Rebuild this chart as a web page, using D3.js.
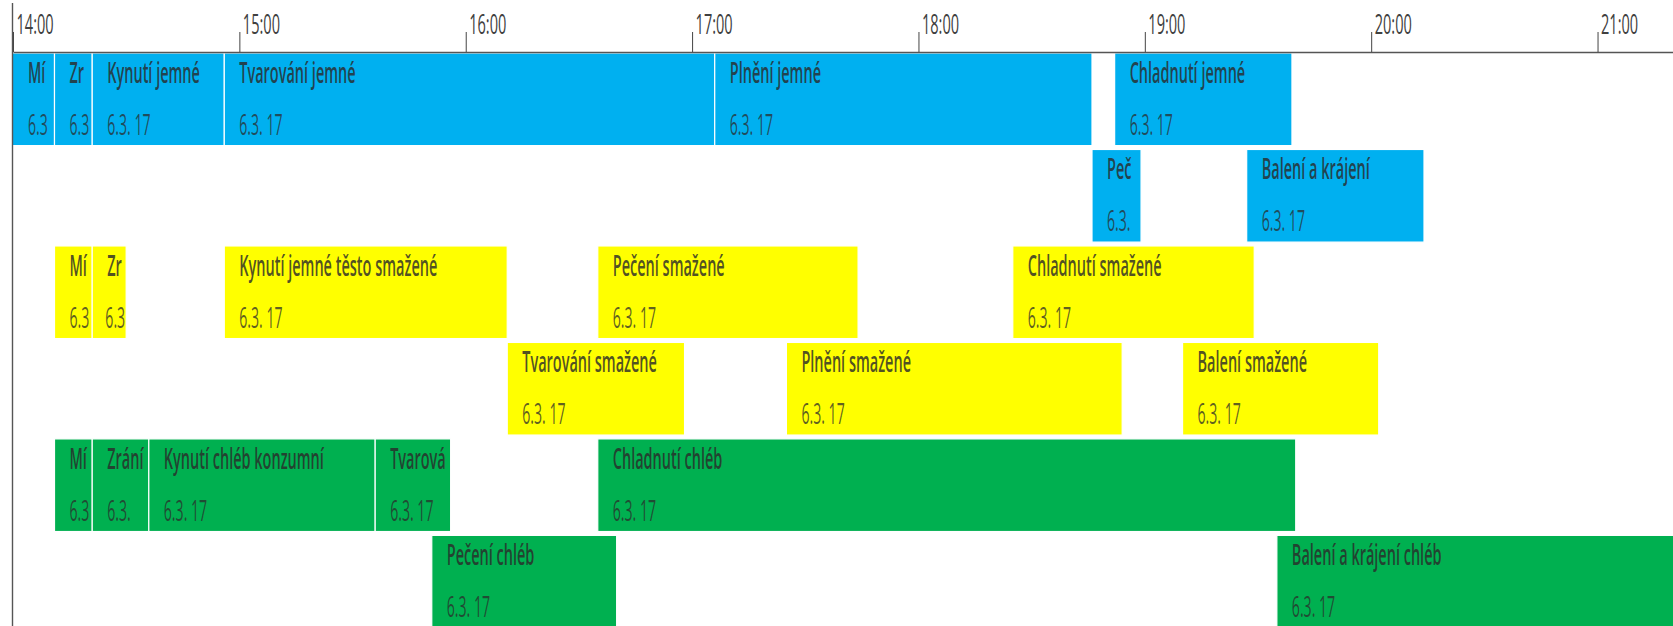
<!DOCTYPE html>
<html>
<head>
<meta charset="utf-8">
<script src="https://cdn.jsdelivr.net/npm/d3@7"></script>
<style>
  body { margin: 0; background: #fff; }
  svg { display: block; }
</style>
</head>
<body>
<div class="chart"></div>
<script>
const width = 1673
const height = 626

// task labels as they show in their bars (short bars cut the text)
const taskNames = [
  "Mí", "Zr", "Kynutí jemné", "Tvarování jemné", "Plnění jemné", "Chladnutí jemné",
  "Peč", "Balení a krájení",
  "Mí", "Zr", "Kynutí jemné těsto smažené", "Pečení smažené", "Chladnutí smažené",
  "Tvarování smažené", "Plnění smažené", "Balení smažené",
  "Mí", "Zrání", "Kynutí chléb konzumní", "Tvarová", "Chladnutí chléb",
  "Pečení chléb", "Balení a krájení chléb"
]
const taskDates = [
  "6.3", "6.3", "6.3. 17", "6.3. 17", "6.3. 17", "6.3. 17",
  "6.3.", "6.3. 17",
  "6.3", "6.3", "6.3. 17", "6.3. 17", "6.3. 17",
  "6.3. 17", "6.3. 17", "6.3. 17",
  "6.3", "6.3.", "6.3. 17", "6.3. 17", "6.3. 17",
  "6.3. 17", "6.3. 17"
]
const taskRow = [
  0, 0, 0, 0, 0, 0,
  1, 1,
  2, 2, 2, 2, 2,
  3, 3, 3,
  4, 4, 4, 4, 4,
  5, 5
]
const taskStart = [
  "13:55", "14:11", "14:21", "14:56", "17:06", "18:52",
  "18:46", "19:27",
  "14:11", "14:21", "14:56", "16:35", "18:25",
  "16:11", "17:25", "19:10",
  "14:11", "14:21", "14:36", "15:36", "16:35",
  "15:51", "19:35"
]
const taskEnd = [
  "14:11", "14:21", "14:56", "17:06", "18:46", "19:39",
  "18:59", "20:14",
  "14:21", "14:30", "16:11", "17:44", "19:29",
  "16:58", "18:54", "20:02",
  "14:21", "14:36", "15:36", "15:56", "19:40",
  "16:40", "21:40"
]
const taskGroup = [
  "jemné", "jemné", "jemné", "jemné", "jemné", "jemné",
  "jemné", "jemné",
  "smažené", "smažené", "smažené", "smažené", "smažené",
  "smažené", "smažené", "smažené",
  "chléb", "chléb", "chléb", "chléb", "chléb",
  "chléb", "chléb"
]

const groups = ["jemné", "smažené", "chléb"]
const groupColors = ["#00b0f0", "#ffff00", "#00b050"]

const timeStart = "14:00"
const timeEnd = "21:20"

const parse = d3.timeParse("%H:%M")
const tasks = taskNames.map((name, i) => ({
  name: name,
  date: taskDates[i],
  row: taskRow[i],
  start: parse(taskStart[i]),
  end: parse(taskEnd[i]),
  group: taskGroup[i]
}))

const svg = d3.select('.chart').append('svg')
  .attr("width", width)
  .attr("height", height)

const xScale = d3.scaleTime()
  .domain([parse(timeStart), parse(timeEnd)])
  .range([13, width])

const yScale = d3.scaleBand()
  .domain(d3.range(6))
  .range([53, 628])
  .paddingInner(0.04)

const color = d3.scaleOrdinal().domain(groups).range(groupColors)

const left = 13
const pad = 15
const x0 = d => Math.max(xScale(d.start), left)

svg.append("defs").append("clipPath").attr("id", "plot")
  .append("rect")
  .attr("x", left).attr("y", 53)
  .attr("width", width - left).attr("height", height - 53)

// BARS
const bars = svg.append("g")
  .attr("clip-path", "url(#plot)")
  .selectAll("g")
  .data(tasks)
  .join("g")

bars.append("rect")
  .attr("x", d => xScale(d.start))
  .attr("y", d => yScale(d.row))
  .attr("width", d => xScale(d.end) - xScale(d.start))
  .attr("height", yScale.bandwidth())
  .attr("fill", d => color(d.group))
  .attr("stroke", "#ffffff")
  .attr("stroke-width", 1.2)

const titleScale = 0.5
const dateScale = 0.47

// narrow bars pull their text a bit to the left so it stays inside
const shift = (d, w) => Math.min(pad, Math.max(5, xScale(d.end) - x0(d) - w - 1))

bars.append("text")
  .attr("font-family", "'Open Sans', sans-serif")
  .attr("font-weight", 600)
  .attr("font-size", 29)
  .attr("fill", "#2b2b2b")
  .attr("fill-opacity", 0.82)
  .text(d => d.name)
  .attr("transform", function(d) {
    const w = this.getComputedTextLength() * titleScale
    return `translate(${x0(d) + shift(d, w)},${yScale(d.row) + 30}) scale(${titleScale},1)`
  })

bars.append("text")
  .attr("font-family", "'Open Sans', sans-serif")
  .attr("font-size", 30)
  .attr("fill", "#2b2b2b")
  .attr("fill-opacity", 0.75)
  .text(d => d.date)
  .attr("transform", function(d) {
    const w = this.getComputedTextLength() * dateScale
    return `translate(${x0(d) + shift(d, w)},${yScale(d.row) + 82}) scale(${dateScale},1)`
  })

// AXIS
const xAxis = d3.axisTop(xScale)
  .ticks(d3.timeHour.every(1))
  .tickFormat(d3.timeFormat("%H:%M"))
  .tickSize(20)
  .tickSizeOuter(0)

const axis = svg.append("g")
  .attr("transform", "translate(0,52)")
  .call(xAxis)

axis.select(".domain").attr("stroke", "#555").attr("stroke-width", 1.6)
axis.selectAll(".tick line").attr("stroke", "#444")
axis.selectAll(".tick text")
  .attr("x", null).attr("y", null).attr("dy", null)
  .attr("text-anchor", "start")
  .attr("transform", "translate(3,-18) scale(0.52,1)")
  .attr("font-family", "'Open Sans', sans-serif")
  .attr("font-size", 28)
  .attr("fill", "#404040")

svg.append("line")
  .attr("x1", 12.5).attr("x2", 12.5)
  .attr("y1", 3).attr("y2", height)
  .attr("stroke", "#555")
  .attr("stroke-width", 1.4)
</script>
</body>
</html>
